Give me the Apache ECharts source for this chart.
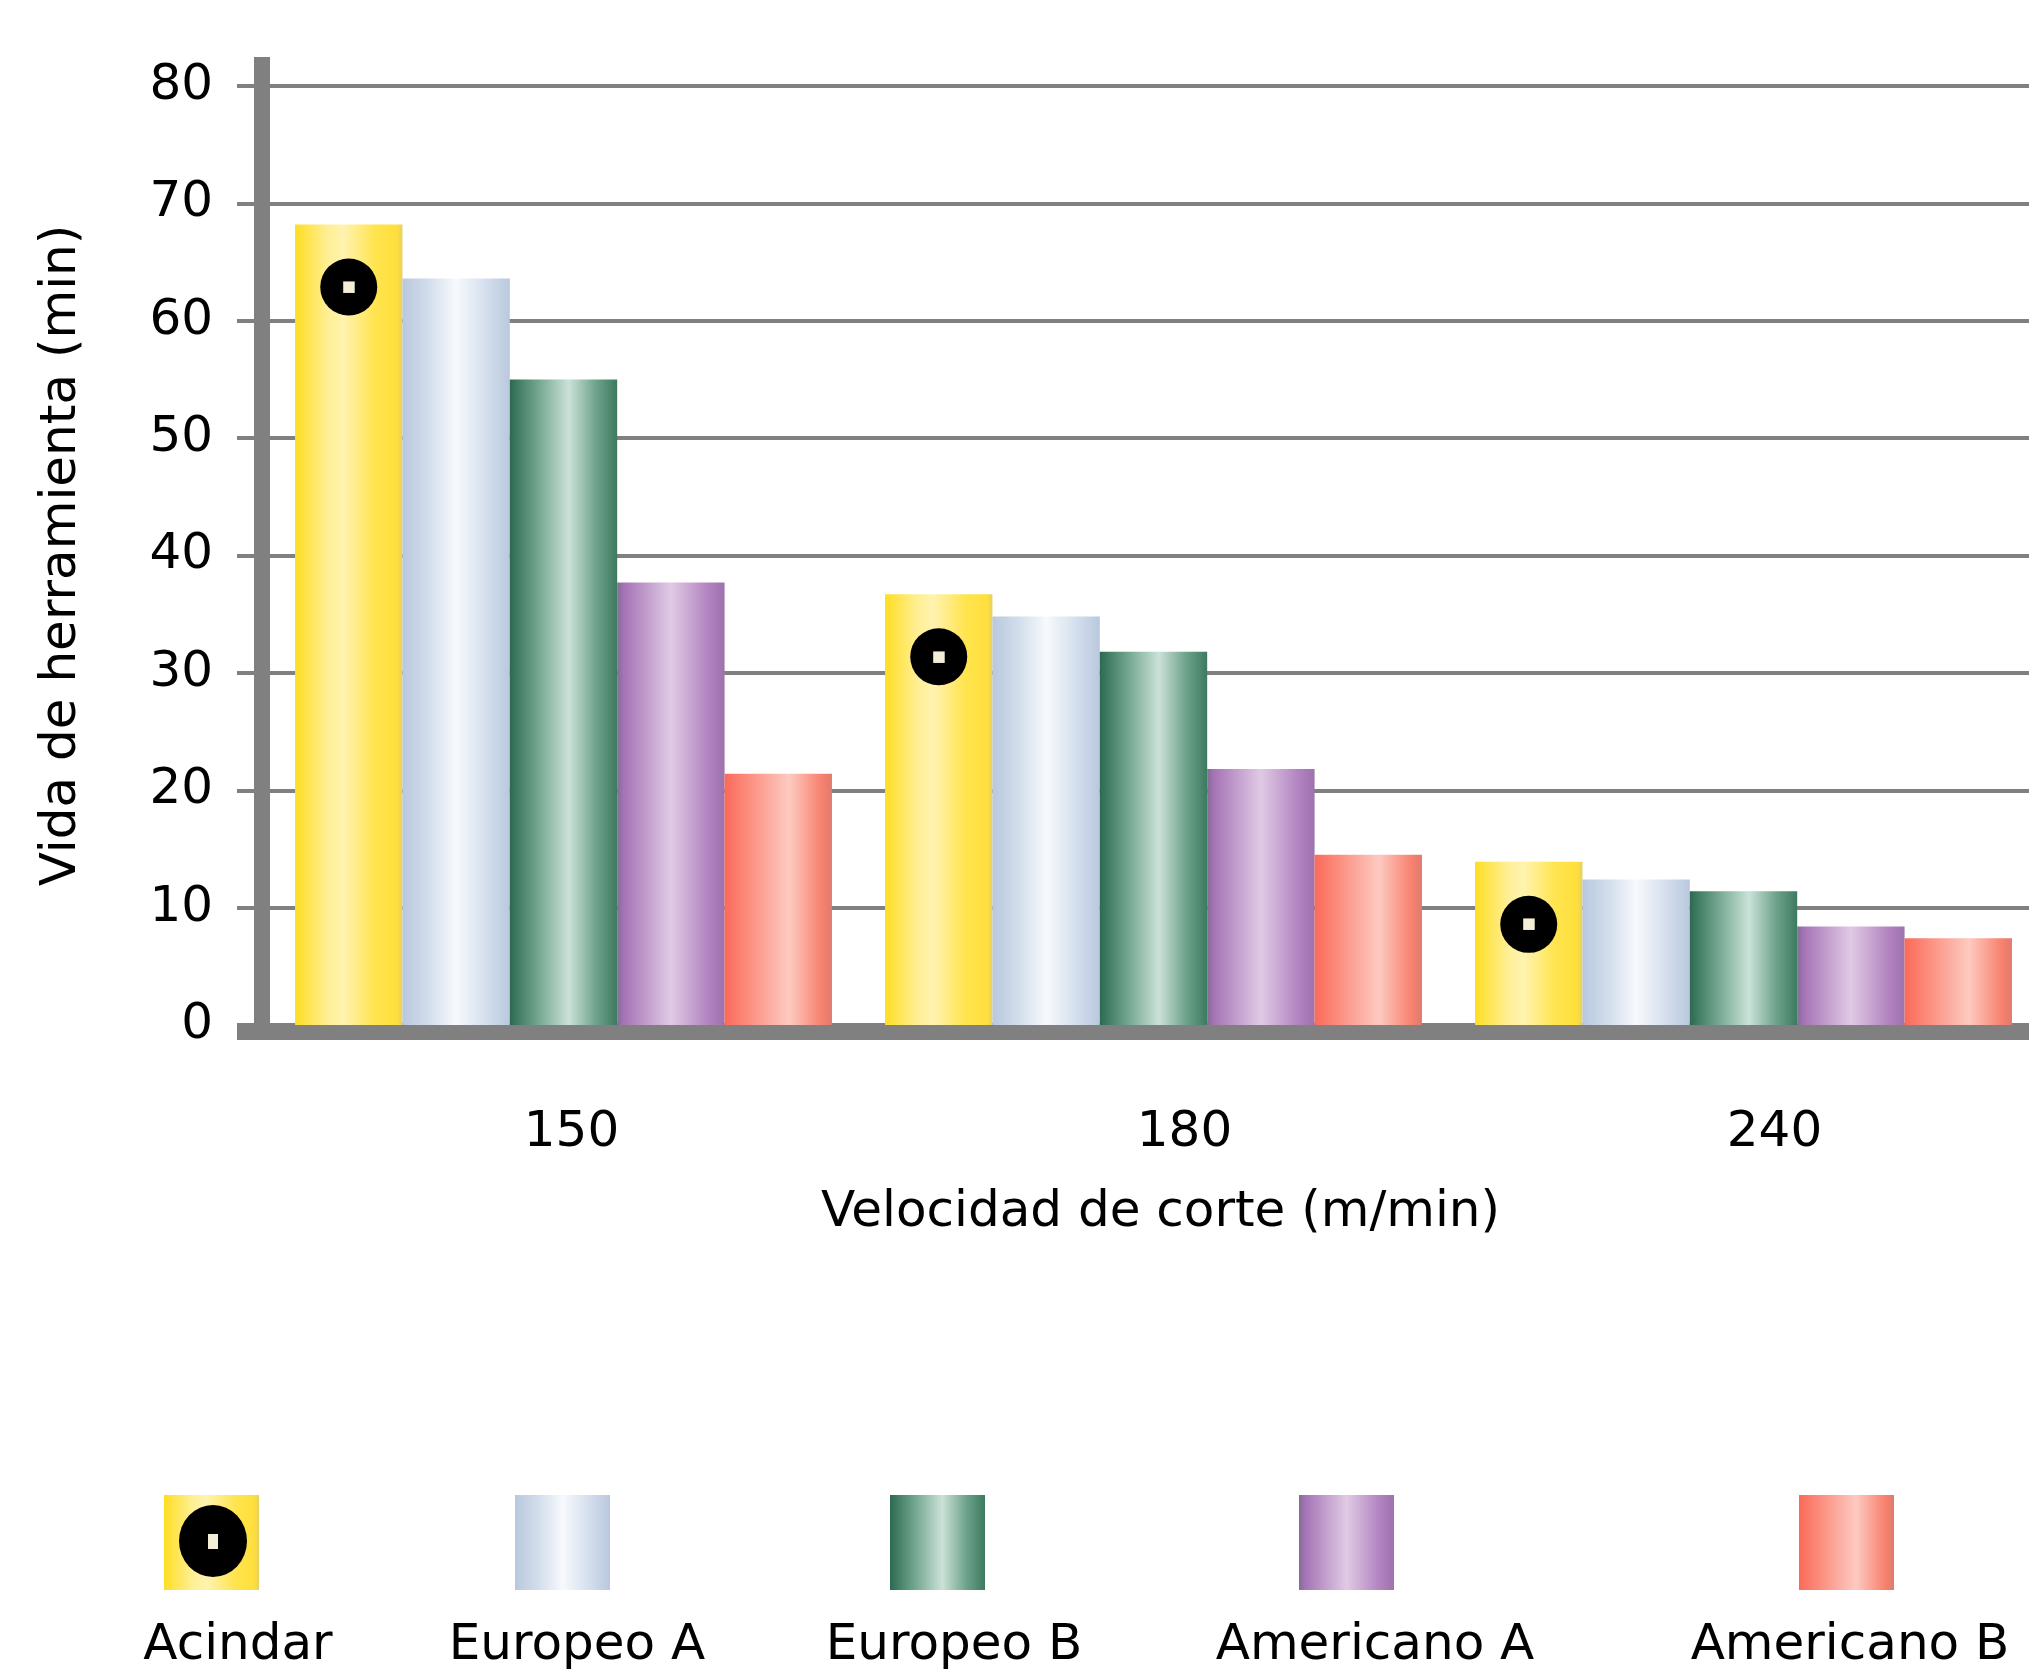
<!DOCTYPE html>
<html><head><meta charset="utf-8">
<script src="https://cdn.jsdelivr.net/npm/echarts@6/dist/echarts.min.js"></script>
<style>html,body{margin:0;padding:0;background:#fff}#c{width:2029px;height:1671px}</style>
</head><body><div id="c"></div>
<script>
// ---- data ----
const categories = ['150', '180', '240'];
const seriesNames = ['Acindar', 'Europeo A', 'Europeo B', 'Americano A', 'Americano B'];
const acindar    = [68.2, 36.7, 13.9];
const europeoA   = [63.6, 34.8, 12.4];
const europeoB   = [55.0, 31.8, 11.4];
const americanoA = [37.7, 21.8, 8.4];
const americanoB = [21.4, 14.5, 7.4];
const yMin = 0, yMax = 80, yStep = 10;
const xTitle = 'Velocidad de corte (m/min)';
const yTitle = 'Vida de herramienta (min)';

// ---- styles ----
const FONT = 'DejaVu Sans';
const GRAY = '#808080';
const catLabelShift = [16, 62, 62]; // left padding to nudge label centers
const stops = [
  [[0,'#ffdd22'],[0.3,'#ffef94'],[0.45,'#fff3b0'],[0.75,'#ffe44e'],[0.95,'#ffdf3c'],[1,'#e6d060']],
  [[0,'#b9c8de'],[0.25,'#d3deec'],[0.5,'#f7f9fd'],[0.75,'#d8e2ef'],[1,'#b9c8de']],
  [[0,'#2c6a50'],[0.25,'#6fa38c'],[0.55,'#cbe2d8'],[0.8,'#6fa38c'],[1,'#3c7a60']],
  [[0,'#7c7092'],[0.06,'#a573b5'],[0.5,'#e0cae5'],[0.85,'#b283c0'],[1,'#9d72ad']],
  [[0,'#fb6a58'],[0.3,'#fb9a8c'],[0.6,'#fdcac1'],[0.9,'#f8826f'],[1,'#e07a6c']]
];
function grad(s){ return {type:'linear', x:0, y:0, x2:1, y2:0, colorStops: s.map(p=>({offset:p[0], color:p[1]}))}; }

function acindarIcon(){
  const cv = document.createElement('canvas'); cv.width = 95; cv.height = 95;
  const g = cv.getContext('2d');
  const gr = g.createLinearGradient(0,0,95,0);
  stops[0].forEach(p=>gr.addColorStop(p[0], p[1]));
  g.fillStyle = gr; g.fillRect(0,0,95,95);
  g.fillStyle = '#000'; g.beginPath(); g.ellipse(49,46,34,36,0,0,Math.PI*2); g.fill();
  g.fillStyle = '#f4eed6'; g.fillRect(44,39,10,15);
  return 'image://' + cv.toDataURL();
}

const dataSets = [acindar, europeoA, europeoB, americanoA, americanoB];
const legendLeft = [164, 515, 890, 1299, 1799];
const legendTextX = [238, 577, 954, 1375, 1850];

const chart = echarts.init(document.getElementById('c'));
chart.setOption({
  animation: false,
  backgroundColor: '#fff',
  grid: [
    {left: 268.5, width: 1770, top: 86, bottom: 646, outerBoundsMode: 'none', containLabel: false},
    {left: 237, width: 1800, top: 57, bottom: 639, outerBoundsMode: 'none', containLabel: false}
  ],
  xAxis: [
    {gridIndex: 0, type: 'category',
     data: categories.map((c, i) => ({value: c, textStyle: {padding: [0, 0, 0, catLabelShift[i]]}})),
     axisLine: {show: false}, axisTick: {show: false},
     axisLabel: {margin: 83, fontSize: 50, fontFamily: FONT, color: '#000'},
     name: xTitle, nameLocation: 'middle', nameGap: 163,
     nameTextStyle: {fontSize: 50, fontFamily: FONT, color: '#000', padding: [0, 0, 0, 14]}},
    {gridIndex: 1, type: 'value', min: 0, max: 1, z: 5,
     axisLine: {show: true, lineStyle: {color: GRAY, width: 15, cap: 'butt'}},
     axisTick: {show: false}, axisLabel: {show: false}, splitLine: {show: false}}
  ],
  yAxis: [
    {gridIndex: 0, type: 'value', min: yMin, max: yMax, interval: yStep, offset: 6.5,
     axisLine: {show: false},
     axisTick: {show: true, length: 25, lineStyle: {color: GRAY, width: 4, cap: 'butt'}},
     splitLine: {show: true, lineStyle: {color: GRAY, width: 4, cap: 'butt'}},
     axisLabel: {margin: 49, fontSize: 50, fontFamily: FONT, color: '#000'},
     name: yTitle, nameLocation: 'middle', nameRotate: 90, nameGap: 175,
     nameTextStyle: {fontSize: 50, fontFamily: FONT, color: '#000'}},
    {gridIndex: 1, type: 'value', min: 0, max: 1, offset: -25, z: 5,
     axisLine: {show: true, lineStyle: {color: GRAY, width: 16, cap: 'butt'}},
     axisTick: {show: false}, axisLabel: {show: false}, splitLine: {show: false}}
  ],
  legend: seriesNames.map((n, i) => ({
    data: [i === 0 ? {name: n, icon: acindarIcon()} : {name: n, icon: 'rect'}],
    left: legendLeft[i], top: 1495, itemWidth: 95, itemHeight: 95,
    padding: 0, itemGap: 0, selectedMode: false, formatter: () => ''
  })),
  graphic: seriesNames.map((n, i) => ({
    type: 'text', x: legendTextX[i], y: 1646,
    style: {text: n, fontSize: 50, fontFamily: FONT, fill: '#000', textAlign: 'center', textVerticalAlign: 'middle'}
  })),
  series: seriesNames.map((n, i) => ({
    name: n, type: 'bar', xAxisIndex: 0, yAxisIndex: 0, data: dataSets[i],
    barGap: '0%', barCategoryGap: '9%',
    itemStyle: {color: grad(stops[i])},
    emphasis: {disabled: true},
    label: i === 0 ? {
      show: true, position: 'insideTop', distance: 34,
      formatter: '{m|■}',
      rich: {m: {width: 57, height: 57, lineHeight: 57, backgroundColor: '#000', borderRadius: 28.5,
                 color: '#f4eed6', fontSize: 15, fontFamily: FONT, align: 'center', verticalAlign: 'middle'}}
    } : {show: false}
  }))
});
</script></body></html>
